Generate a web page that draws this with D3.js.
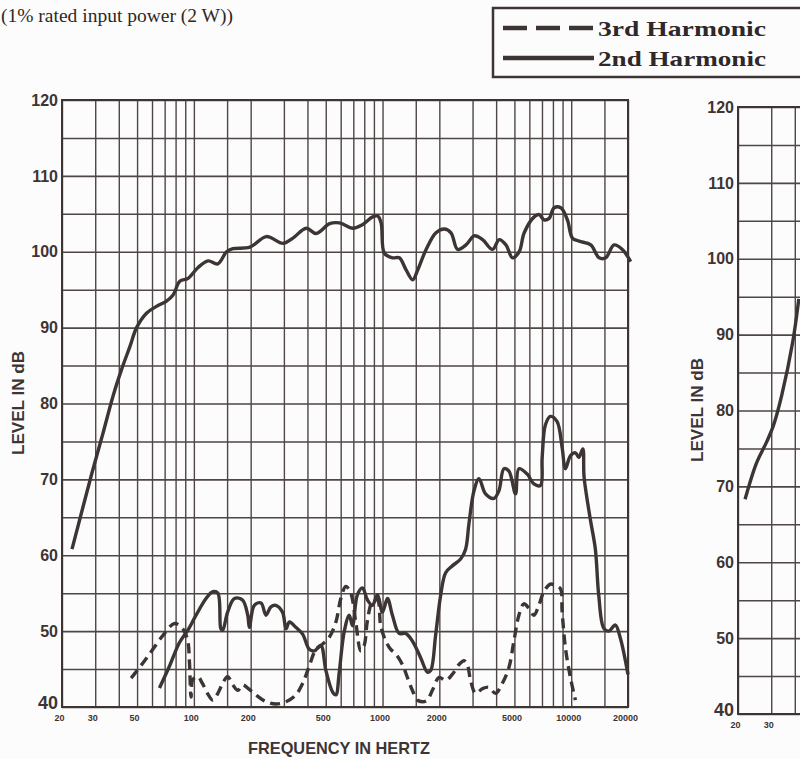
<!DOCTYPE html>
<html>
<head>
<meta charset="utf-8">
<script src="https://cdn.jsdelivr.net/npm/d3@7"></script>
<style>
  body { margin: 0; background: #fdfcfc; }
  svg { display: block; }
</style>
</head>
<body>
<div id="chart"></div>
<script>
// Data
var freqTicks = [20, 30, 50, 100, 200, 500, 1000, 2000, 5000, 10000, 20000];
var freqGrid = [20, 30, 40, 50, 60, 70, 80, 90, 100, 150, 200, 300, 400, 500, 600, 700, 800, 900,
  1000, 1500, 2000, 3000, 4000, 5000, 6000, 7000, 8000, 9000, 10000, 15000, 20000];
var levelTicks = [40, 50, 60, 70, 80, 90, 100, 110, 120];
var levelGrid = [40, 45, 50, 55, 60, 65, 70, 75, 80, 85, 90, 95, 100, 105, 110, 115, 120];
var rightFreqTicks = [20, 30];
var rightFreqGrid = [20, 30, 40];

// fundamental response (top solid line)
var responseFreq = [22.6, 28.8, 33, 37.3, 41.4, 45.8, 49.7, 56.1, 63.4, 71.6, 77.6, 84.2, 93.2, 105, 119, 134,
  149, 161, 198, 242, 297, 335, 394, 445, 524, 591, 696, 786, 887, 943, 983, 1023, 1132, 1228, 1333,
  1444, 1536, 1702, 1920, 2126, 2306, 2500, 2770, 3064, 3390, 3828, 4155, 4508, 4886, 5300, 5635,
  6364, 6762, 7186, 7638, 8119, 8809, 9546, 10149, 11011, 12696, 14052, 15242, 16864, 18660, 20660];
var responseLevel = [60.8, 70.8, 76.1, 81.0, 84.5, 87.5, 90.0, 91.9, 92.8, 93.5, 94.3, 96.1, 96.5, 97.9, 98.8, 98.4,
  100.0, 100.4, 100.6, 102.0, 101.1, 101.8, 103.1, 102.4, 103.7, 103.8, 103.1, 103.6, 104.6, 104.7, 103.8, 99.8, 99.2, 99.2, 97.6,
  96.3, 97.6, 100.3, 102.5, 103.0, 102.5, 100.3, 100.9, 102.1, 101.6, 100.3, 101.6, 100.9, 99.2, 100.0, 102.5,
  104.6, 104.9, 104.2, 104.4, 105.8, 105.8, 104.2, 101.8, 101.4, 100.9, 99.2, 99.2, 100.9, 100.3, 98.7];

// 2nd harmonic (lower solid line)
var secondFreq = [65.7, 74.3, 83.9, 92.8, 102.7, 116, 126, 134, 139, 142, 151, 164, 181, 193, 197, 209, 227, 241,
  256, 272, 295, 308, 321, 347, 377, 409, 435, 471, 500, 543, 566, 589, 626, 666, 693, 736, 783, 832, 884,
  940, 999, 1062, 1128, 1224, 1327, 1439, 1592, 1728, 1799, 1912, 2032, 2160, 2343, 2594, 2756, 2872, 3053,
  3246, 3516, 3896, 4139, 4400, 4676, 5068, 5282, 5844, 6340, 6871, 7015, 7302, 7760, 8420, 8950, 9318,
  9902, 10526, 10972, 11518, 11702, 12634, 13428, 13996, 14874, 15810, 17130, 18206, 20000];
var secondLevel = [42.5, 45.4, 48.5, 50.1, 52.1, 54.3, 55.2, 55.0, 50.3, 50.1, 52.5, 54.3, 54.1, 52.1, 50.5, 53.4, 53.7, 52.1,
  53.2, 53.4, 52.5, 50.3, 51.2, 50.5, 49.6, 47.6, 47.4, 48.1, 44.9, 42.0, 41.6, 44.5, 49.9, 52.1, 50.7, 54.8, 55.7, 54.1, 53.4,
  54.8, 52.5, 54.3, 52.1, 49.7, 49.7, 48.7, 46.5, 44.6, 44.8, 49.5, 54.7, 57.7, 58.6, 59.5, 60.8, 64.2, 68.5,
  70.1, 68.1, 67.5, 68.5, 71.4, 71.1, 68.1, 71.4, 70.7, 69.4, 69.2, 72.9, 77.2, 78.3, 77.6, 74.2, 71.4,
  73.1, 73.5, 72.9, 74.0, 70.3, 64.7, 60.8, 54.7, 50.4, 50.0, 50.8, 49.1, 44.3];

// 3rd harmonic (dashed line)
var thirdFreq = [46.5, 53.7, 60.6, 68.4, 79, 87.4, 92.8, 94.8, 96.6, 98.7, 105, 111, 118, 126, 134, 142, 151, 161,
  171, 181, 193, 213, 241, 272, 308, 347, 377, 409, 443, 471, 522, 566, 601, 639, 679, 721, 767, 799, 832,
  884, 940, 978, 1040, 1105, 1175, 1274, 1354, 1439, 1530, 1626, 1728, 1837, 1993, 2160, 2343, 2543,
  2703, 2814, 2929, 3113, 3377, 3664, 3972, 4309, 4676, 4970, 5282, 5612, 5966, 6340, 6738, 7161, 7760,
  8248, 8767, 8950, 9318, 9902, 10526];
var thirdLevel = [43.8, 45.8, 47.6, 49.4, 51.0, 50.3, 48.7, 45.8, 41.3, 43.6, 44.0, 43.1, 41.8, 40.9, 41.8, 43.1, 44.0, 42.9,
  42.2, 42.9, 42.5, 41.6, 40.7, 40.4, 40.7, 41.6, 43.1, 45.4, 47.6, 48.1, 49.2, 51.2, 54.3, 55.9, 55.0, 51.2, 47.4, 48.1, 51.4,
  53.9, 54.1, 50.7, 48.7, 47.6, 47.0, 45.6, 43.9, 42.2, 40.9, 40.7, 40.9, 42.2, 43.9, 43.5, 44.3, 45.6,
  46.1, 45.6, 43.5, 41.8, 42.4, 42.6, 41.8, 43.1, 45.2, 48.7, 52.1, 53.6, 53.0, 52.1, 53.4, 55.2, 56.2,
  56.0, 55.6, 52.6, 47.8, 43.9, 40.9];

// start of the next chart, cut by the page edge
var rightFreq = [21.8, 25, 28.3, 30.8, 34.1, 39.1, 42];
var rightLevel = [68.3, 73.0, 75.8, 78.0, 82.0, 89.2, 94.7];

var legendLabels = ["3rd Harmonic", "2nd Harmonic"];
var titleText = "(1% rated input power (2 W))";

// Step 1: svg area
var svgWidth = 800;
var svgHeight = 759;
var ink = "#3d3434";
var gridInk = "#4f4646";

var svg = d3.select("#chart")
  .append("svg")
  .attr("width", svgWidth)
  .attr("height", svgHeight)
  .style("font-family", "'Liberation Sans', Arial, sans-serif");

// Step 2: scales for both panels
var xLeft = d3.scaleLog().domain([20, 20000]).range([62, 628]);
var yLeft = d3.scaleLinear().domain([40, 120]).range([707, 100]);
var xRight = d3.scaleLog().domain([20, 20000]).range([738, 1304]);
var yRight = d3.scaleLinear().domain([40, 120]).range([714, 107]);

// Step 3: grid, frame and labels of one panel
function drawPanel(x, y, gridF, tickF) {
  var g = svg.append("g");
  var x0 = x.range()[0], x1 = x.range()[1];
  var yTop = y.range()[1], yBot = y.range()[0];

  g.append("g")
    .attr("transform", `translate(0, ${yBot})`)
    .call(d3.axisBottom(x).tickValues(gridF).tickSize(-(yBot - yTop)).tickFormat(""))
    .call(a => a.select(".domain").remove())
    .selectAll("line").attr("stroke", gridInk).attr("stroke-width", 1.4);

  g.append("g")
    .attr("transform", `translate(${x0}, 0)`)
    .call(d3.axisLeft(y).tickValues(levelGrid).tickSize(-(x1 - x0)).tickFormat(""))
    .call(a => a.select(".domain").remove())
    .selectAll("line").attr("stroke", gridInk).attr("stroke-width", 1.6);

  g.append("rect")
    .attr("x", x0).attr("y", yTop)
    .attr("width", x1 - x0).attr("height", yBot - yTop)
    .attr("fill", "none").attr("stroke", ink).attr("stroke-width", 2);

  // level labels
  var yAxis = g.append("g")
    .attr("transform", `translate(${x0 - 2}, 0)`)
    .call(d3.axisLeft(y).tickValues(levelTicks).tickSize(0).tickPadding(2));
  yAxis.select(".domain").remove();
  yAxis.selectAll("text")
    .attr("fill", ink)
    .style("font-size", "16px")
    .style("font-weight", "bold")
    .style("font-family", "'Liberation Sans', Arial, sans-serif");
  yAxis.selectAll("text").filter(d => d === 40).attr("dy", "0.1em").style("font-size", "18px");

  // frequency labels
  var xAxis = g.append("g")
    .attr("transform", `translate(-3, ${yBot + 7})`)
    .call(d3.axisBottom(x).tickValues(tickF).tickSize(0).tickPadding(0).tickFormat(d3.format("d")));
  xAxis.select(".domain").remove();
  xAxis.selectAll("text")
    .attr("fill", ink)
    .style("font-size", "9px")
    .style("font-weight", "bold")
    .style("font-family", "'Liberation Sans Narrow', 'Liberation Sans', Arial, sans-serif")
    .attr("transform", "scale(1,1.1)");

  return g;
}

drawPanel(xLeft, yLeft, freqGrid, freqTicks);
drawPanel(xRight, yRight, rightFreqGrid, rightFreqTicks);

// Step 4: axis titles
svg.append("text")
  .attr("transform", "translate(24, 403) rotate(-90)")
  .attr("text-anchor", "middle")
  .attr("fill", ink)
  .style("font-size", "16px")
  .style("font-weight", "bold")
  .attr("textLength", 104)
  .attr("lengthAdjust", "spacingAndGlyphs")
  .text("LEVEL IN dB");

svg.append("text")
  .attr("transform", "translate(703, 410) rotate(-90)")
  .attr("text-anchor", "middle")
  .attr("fill", ink)
  .style("font-size", "16px")
  .style("font-weight", "bold")
  .attr("textLength", 104)
  .attr("lengthAdjust", "spacingAndGlyphs")
  .text("LEVEL IN dB");

svg.append("text")
  .attr("x", 248).attr("y", 754)
  .attr("fill", ink)
  .style("font-size", "17px")
  .style("font-weight", "bold")
  .attr("textLength", 182)
  .attr("lengthAdjust", "spacingAndGlyphs")
  .text("FREQUENCY IN HERTZ");

// Step 5: title and legend
svg.append("text")
  .attr("x", 1).attr("y", 22)
  .attr("fill", "#2e2828")
  .style("font-family", "'Liberation Serif', 'Times New Roman', serif")
  .style("font-size", "19.5px")
  .text(titleText);

var legend = svg.append("g");
legend.append("rect")
  .attr("x", 493).attr("y", 8)
  .attr("width", 330).attr("height", 69)
  .attr("fill", "none").attr("stroke", ink).attr("stroke-width", 2.5);

legendLabels.forEach(function(label, i) {
  var ly = 28 + i * 30;
  legend.append("line")
    .attr("x1", 503).attr("x2", 594)
    .attr("y1", ly).attr("y2", ly)
    .attr("stroke", ink).attr("stroke-width", 4.5)
    .attr("stroke-dasharray", i === 0 ? "24,9" : null);
  legend.append("text")
    .attr("x", 598).attr("y", ly + 8)
    .attr("fill", "#2e2828")
    .style("font-family", "'Liberation Serif', 'Times New Roman', serif")
    .style("font-size", "22px")
    .style("font-weight", "bold")
    .attr("textLength", 168)
    .attr("lengthAdjust", "spacingAndGlyphs")
    .text(label);
});

// Step 6: curves
function drawCurve(x, y, fs, ls, dash) {
  var pts = fs.map((f, i) => [x(f), y(ls[i])]);
  svg.append("path")
    .datum(pts)
    .attr("fill", "none")
    .attr("stroke", ink)
    .attr("stroke-width", 3.4)
    .attr("stroke-linejoin", "round")
    .attr("stroke-dasharray", dash)
    .attr("d", d3.line().curve(d3.curveCatmullRom.alpha(0.5)));
}

drawCurve(xLeft, yLeft, responseFreq, responseLevel, null);
drawCurve(xLeft, yLeft, secondFreq, secondLevel, null);
drawCurve(xLeft, yLeft, thirdFreq, thirdLevel, "10,6");
drawCurve(xRight, yRight, rightFreq, rightLevel, null);
</script>
</body>
</html>
